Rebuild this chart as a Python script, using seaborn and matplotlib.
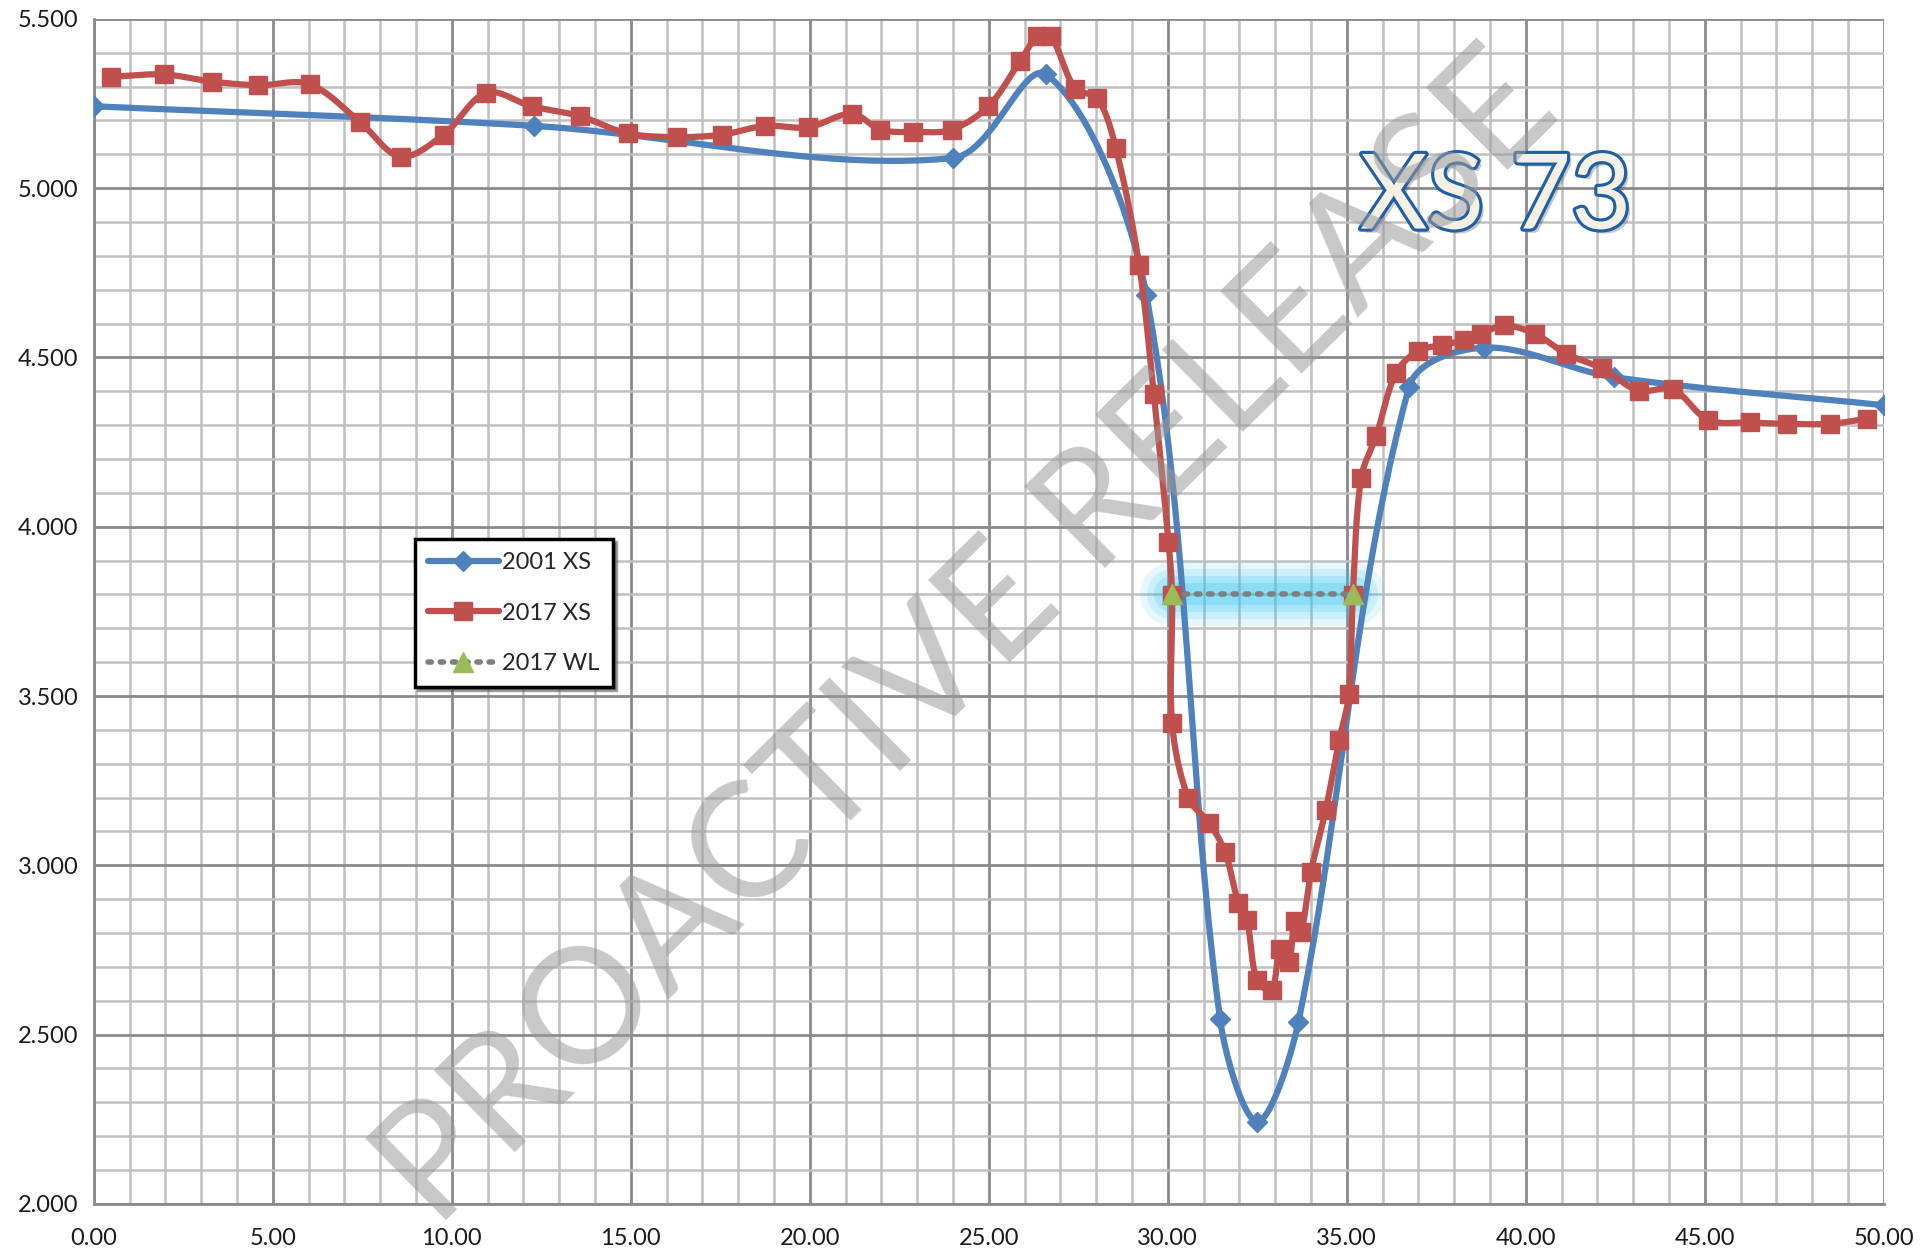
import numpy as np
import matplotlib
matplotlib.use("Agg")
import matplotlib.pyplot as plt
import matplotlib.patheffects as pe
from matplotlib.lines import Line2D
from matplotlib.ticker import MultipleLocator, FormatStrFormatter
import seaborn as sns

# 2001 cross-section (blue)
x_2001 = [0.0, 12.3, 24.0, 26.6, 29.4, 31.46, 32.5, 33.65, 36.74, 38.83, 42.46, 50.0]
y_2001 = [5.242, 5.184, 5.089, 5.336, 4.686, 2.545, 2.243, 2.538, 4.413, 4.529, 4.442, 4.359]

# 2017 cross-section (red)
x_2017 = [0.48, 1.95, 3.29, 4.59, 6.03, 7.44, 8.57, 9.77, 10.97, 12.23, 13.57, 14.91,
          16.28, 17.55, 18.75, 19.95, 21.18, 21.97, 22.89, 23.96, 24.99, 25.88, 26.36,
          26.73, 27.42, 28.03, 28.55, 29.2, 29.61, 30.02, 30.12, 30.12, 30.57, 31.15,
          31.6, 31.97, 32.21, 32.49, 32.9, 33.14, 33.38, 33.55, 33.72, 34.0, 34.41,
          34.79, 35.06, 35.17, 35.4, 35.82, 36.37, 36.98, 37.67, 38.28, 38.76, 39.38,
          40.27, 41.13, 42.12, 43.15, 44.11, 45.1, 46.27, 47.3, 48.5, 49.53]
y_2017 = [5.329, 5.336, 5.315, 5.304, 5.307, 5.195, 5.093, 5.158, 5.282, 5.242, 5.213, 5.162,
          5.151, 5.158, 5.184, 5.18, 5.22, 5.173, 5.166, 5.173, 5.242, 5.376, 5.449,
          5.449, 5.293, 5.267, 5.118, 4.773, 4.391, 3.955, 3.799, 3.421, 3.199, 3.126,
          3.039, 2.89, 2.839, 2.661, 2.632, 2.752, 2.715, 2.835, 2.803, 2.981, 3.163,
          3.37, 3.505, 3.799, 4.144, 4.268, 4.453, 4.519, 4.537, 4.551, 4.569, 4.595,
          4.569, 4.511, 4.468, 4.402, 4.406, 4.315, 4.308, 4.304, 4.304, 4.319]

# 2017 water level
x_wl = [30.12, 35.17]
y_wl = [3.80, 3.80]

series_labels = ["2001 XS", "2017 XS", "2017 WL"]
blue = "#4f81bd"
red = "#c0504d"
green = "#9bbb59"


def excel_smooth(xs, ys, sx, sy, n=25):
    # Bezier smoothing similar to Excel's "smoothed line" (chord weighted tangents)
    P = np.column_stack([np.asarray(xs) * sx, np.asarray(ys) * sy])
    out = [P[0]]
    t = np.linspace(0, 1, n)[1:, None]
    for i in range(len(P) - 1):
        p0 = P[i - 1] if i > 0 else P[i]
        p1, p2 = P[i], P[i + 1]
        p3 = P[i + 2] if i + 2 < len(P) else P[i + 1]
        d01 = np.hypot(*(p1 - p0))
        d12 = np.hypot(*(p2 - p1))
        d23 = np.hypot(*(p3 - p2))
        w1 = d12 / (d01 + d12) if d01 + d12 > 0 else 0.5
        w2 = d12 / (d12 + d23) if d12 + d23 > 0 else 0.5
        c1 = p1 + (p2 - p0) * w1 / 3
        c2 = p2 - (p3 - p1) * w2 / 3
        seg = (1 - t) ** 3 * p1 + 3 * (1 - t) ** 2 * t * c1 + 3 * (1 - t) * t ** 2 * c2 + t ** 3 * p2
        out.extend(seg)
    out = np.array(out)
    return out[:, 0] / sx, out[:, 1] / sy


sns.set_style("white")
plt.rcParams["font.family"] = ["Lato", "DejaVu Sans"]

fig = plt.figure(figsize=(19.25, 12.6), dpi=100)
ax = fig.add_axes([0.0487, 0.0445, 0.9299, 0.9405])

sx, sy = 1790 / 50, 1185 / 3.5

# glow around the water level
for lw, a in [(46, 0.12), (36, 0.15), (26, 0.2), (16, 0.25)]:
    ax.plot(x_wl, y_wl, color="#2ec5f0", lw=lw, alpha=a, solid_capstyle="round", zorder=3)

bx, by = excel_smooth(x_2001, y_2001, sx, sy)
sns.lineplot(x=bx, y=by, sort=False, estimator=None, color=blue, linewidth=4.5, ax=ax, zorder=4)
ax.plot(x_2001, y_2001, ls="none", marker="D", ms=10, color=blue, zorder=5)

rx, ry = excel_smooth(x_2017, y_2017, sx, sy)
sns.lineplot(x=rx, y=ry, sort=False, estimator=None, color=red, linewidth=4.5, ax=ax, zorder=6)
ax.plot(x_2017, y_2017, ls="none", marker="s", ms=13, color=red, zorder=7)

ax.plot(x_wl, y_wl, ls=(0, (0.6, 1.6)), lw=4, color="#7f7f7f", dash_capstyle="round", zorder=8)
ax.plot(x_wl, y_wl, ls="none", marker="^", ms=14, color=green, zorder=9)

ax.set_xlim(0, 50)
ax.set_ylim(2.0, 5.5)
ax.xaxis.set_major_locator(MultipleLocator(5))
ax.xaxis.set_minor_locator(MultipleLocator(1))
ax.yaxis.set_major_locator(MultipleLocator(0.5))
ax.yaxis.set_minor_locator(MultipleLocator(0.1))
ax.xaxis.set_major_formatter(FormatStrFormatter("%.2f"))
ax.yaxis.set_major_formatter(FormatStrFormatter("%.3f"))
ax.grid(which="major", color="#8a8a8a", lw=2.0, zorder=0)
ax.grid(which="minor", color="#c0c0c0", lw=1.8, zorder=0)
ax.set_axisbelow(True)
for s in ["top", "right"]:
    ax.spines[s].set_visible(False)
for s in ["left", "bottom"]:
    ax.spines[s].set_color("#8a8a8a")
    ax.spines[s].set_linewidth(2.0)
ax.tick_params(which="major", direction="out", length=5, width=2, color="#8a8a8a",
               labelsize=17, labelcolor="#1a1a1a", pad=6)
ax.tick_params(which="minor", length=0)
ax.tick_params(axis="x", pad=12)

handles = [
    Line2D([], [], color=blue, lw=4.5, marker="D", ms=10),
    Line2D([], [], color=red, lw=4.5, marker="s", ms=13),
    Line2D([], [], color="#7f7f7f", lw=4, ls=(0, (0.6, 1.6)), dash_capstyle="round",
           marker="^", ms=14, mfc=green, mec=green),
]
leg = ax.legend(handles, series_labels, loc="lower left", bbox_to_anchor=(0.1795, 0.436),
                borderaxespad=0, fancybox=False, shadow=True, fontsize=17,
                handlelength=3.0, labelspacing=1.25, handletextpad=0.15,
                borderpad=0.55, framealpha=1)
leg.get_frame().set_edgecolor("black")
leg.get_frame().set_linewidth(2.5)
leg.set_zorder(12)

fig.text(0.777, 0.842, "XS 73", fontsize=75, color="#f4f1e4", ha="center", va="center",
         zorder=20, path_effects=[pe.SimplePatchShadow(offset=(3, -3), alpha=0.3),
                                  pe.Stroke(linewidth=4.5, foreground="#1f5fa8"), pe.Normal()])

fig.text(0.503, 0.492, "PROACTIVE RELEASE", fontsize=116, fontweight="normal", color="#9a9a9a",
         alpha=0.55, rotation=44.7, rotation_mode="anchor", ha="center", va="center", zorder=30)

fig.savefig("out.png", dpi=100)
